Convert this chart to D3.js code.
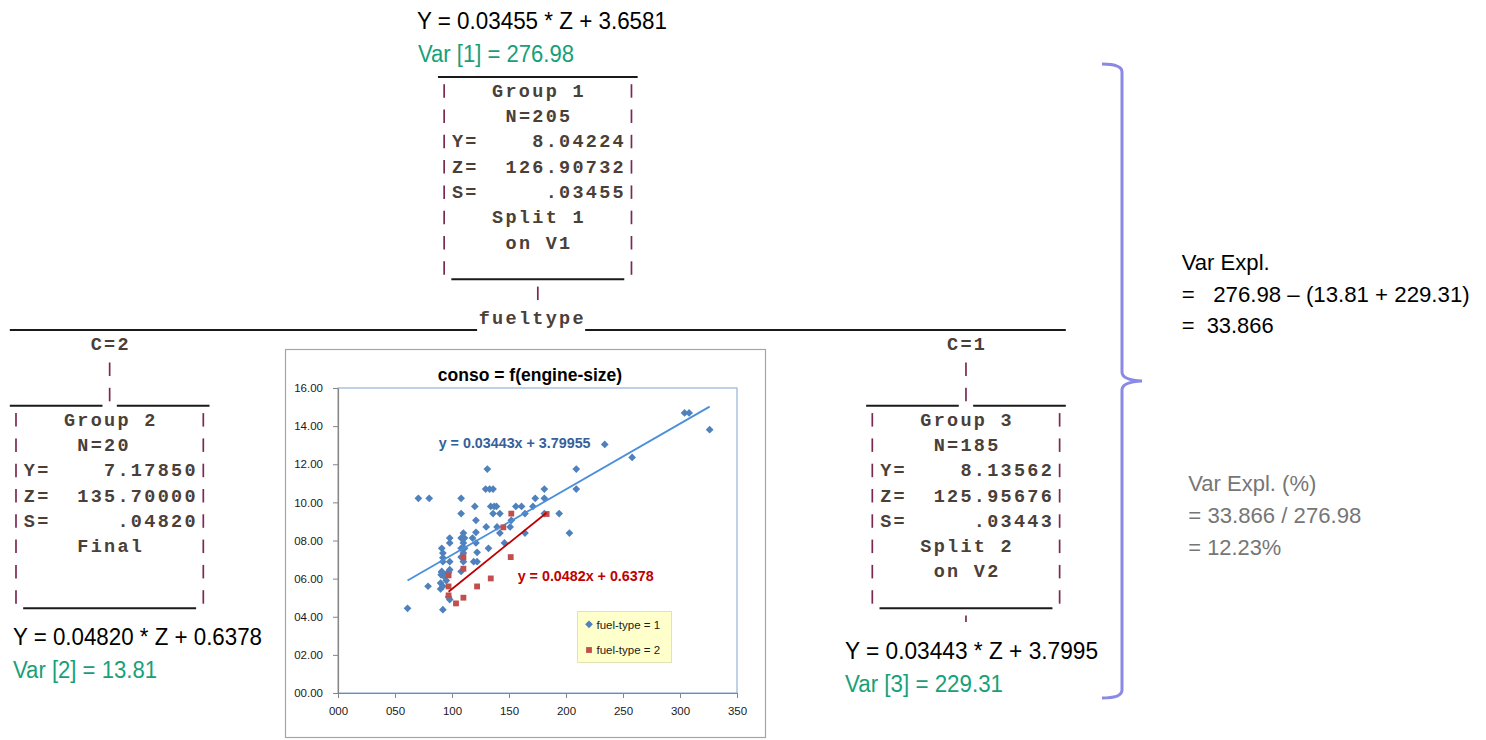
<!DOCTYPE html>
<meta charset="utf-8">
<style>
body { margin: 0; background: #fff; }
svg text { font-family: "Liberation Sans", Arial, sans-serif; }
.mono { font-family: "Liberation Mono", "Courier New", monospace; }
</style>
<svg width="1486" height="740"></svg>
<script src="https://d3js.org/d3.v7.min.js"></script>
<script>

// ascii tree printout: [row, column, text]
var treeRows = [
  [0, 32, "_______________"],
  [1, 32, "|   Group 1   |"],
  [2, 32, "|    N=205    |"],
  [3, 32, "|Y=    8.04224|"],
  [4, 32, "|Z=  126.90732|"],
  [5, 32, "|S=     .03455|"],
  [6, 32, "|   Split 1   |"],
  [7, 32, "|    on V1    |"],
  [8, 32, "|_____________|"],
  [9, 39, "|"],
  [10, 0, "___________________________________fueltype____________________________________"],
  [11, 6, "C=2"], [11, 70, "C=1"],
  [12, 7, "|"], [12, 71, "|"],
  [13, 0, "_______|_______"], [13, 64, "_______|_______"],
  [14, 0, "|   Group 2   |"], [14, 64, "|   Group 3   |"],
  [15, 0, "|    N=20     |"], [15, 64, "|    N=185    |"],
  [16, 0, "|Y=    7.17850|"], [16, 64, "|Y=    8.13562|"],
  [17, 0, "|Z=  135.70000|"], [17, 64, "|Z=  125.95676|"],
  [18, 0, "|S=     .04820|"], [18, 64, "|S=     .03443|"],
  [19, 0, "|    Final    |"], [19, 64, "|   Split 2   |"],
  [20, 0, "|             |"], [20, 64, "|    on V2    |"],
  [21, 0, "|_____________|"], [21, 64, "|_____________|"],
  [22, 71, "|"]
];

// node equations and variances (group 1, 2, 3)
var nodeEquations = ["Y = 0.03455 * Z + 3.6581", "Y = 0.04820 * Z + 0.6378", "Y = 0.03443 * Z + 3.7995"];
var nodeVariances = ["Var [1] = 276.98", "Var [2] = 13.81", "Var [3] = 229.31"];

var explText = ["Var Expl.", "=   276.98 \u2013 (13.81 + 229.31)", "=  33.866"];
var explPctText = ["Var Expl. (%)", "= 33.866 / 276.98", "= 12.23%"];

// scatter: [engine-size, conso]
var fuel1 = [
  [61,4.44],[70.5,10.21],[80,10.21],[79,5.60],[92,4.37],[90,5.46],[90,5.77],[92,5.60],
  [91,7.59],[92,7.34],[92,7.10],[92,6.89],[90.5,6.20],[91,6.38],[93,6.12],[95,5.90],
  [96,6.30],[91,6.33],[97,6.33],[98,8.13],[98,7.87],[98,6.89],[98,6.47],[97,5.04],[98,4.90],
  [108,10.21],[108,9.41],[110,8.39],[108,8.13],[111,8.13],[110,7.87],[108,7.59],[111,7.59],
  [110,7.34],[108,7.13],[110,6.89],[108,6.38],[120,9.79],[121,9.06],[121,8.43],[118,8.13],
  [121,7.87],[122,7.38],[119,6.89],[122,6.89],[131,11.75],[129.5,10.70],[133,10.70],[136,10.70],
  [134,9.79],[137,9.79],[139,9.79],[136,9.41],[142,9.41],[130,8.71],[139.5,8.71],[142,8.39],
  [132,7.59],[146,7.87],[151,8.71],[152,9.06],[156,9.79],[161,9.79],[164,9.41],[164,8.39],
  [171,9.79],[173,10.21],[181,10.70],[181,10.21],[181,9.41],[194,9.41],[203,8.39],[209,11.75],
  [209,10.70],[234,13.04],[258,12.36],[304,14.69],[308,14.69],[326,13.81]
];
var fuel2 = [
  [152,9.41],[145,8.69],[110,7.12],[110,6.52],[151.5,7.13],[97,6.17],[97,5.59],
  [134,6.01],[122,5.59],[97,5.12],[110,5.00],[103.5,4.70],[183,9.39]
];
var fit1 = {slope: 0.03443, intercept: 3.79955, label: "y = 0.03443x + 3.79955"};
var fit2 = {slope: 0.0482, intercept: 0.6378, label: "y = 0.0482x + 0.6378"};

var xTicks = [0, 50, 100, 150, 200, 250, 300, 350];
var yTicks = [0, 2, 4, 6, 8, 10, 12, 14, 16];
var legendNames = ["fuel-type = 1", "fuel-type = 2"];

var svg = d3.select("svg");

/** tree printout **/
var cw = 13.38, x0 = 9.3, rowH = 25.3, y0 = 65.4, fs = 18.5;
function colX(c) { return x0 + c * cw; }
function rowY(r) { return y0 + r * rowH; }

var bars = [], unders = [], words = [];
treeRows.forEach(function(t) {
  var r = t[0], c0 = t[1], s = t[2], i = 0, j;
  while (i < s.length) {
    var ch = s[i];
    if (ch == "|") { bars.push({r: r, c: c0 + i}); i++; }
    else if (ch == "_") {
      j = i; while (j < s.length && s[j] == "_") j++;
      unders.push({r: r, a: c0 + i, b: c0 + j - 1}); i = j;
    }
    else if (ch == " ") { i++; }
    else {
      j = i; while (j < s.length && s[j] != "|" && s[j] != "_") j++;
      words.push({r: r, c: c0 + i, t: s.slice(i, j).replace(/\s+$/, "")}); i = j;
    }
  }
});

var tree = svg.append("g").attr("class", "tree");
tree.selectAll("line.under").data(unders).enter().append("line")
  .attr("class", "under")
  .attr("x1", function(d) { return colX(d.a) + 0.5; })
  .attr("x2", function(d) { return colX(d.b + 1) - 0.5; })
  .attr("y1", function(d) { return rowY(d.r) + 11.5; })
  .attr("y2", function(d) { return rowY(d.r) + 11.5; })
  .attr("stroke", "#1a1a1a").attr("stroke-width", 2);

tree.selectAll("line.bar").data(bars).enter().append("line")
  .attr("class", "bar")
  .attr("x1", function(d) { return colX(d.c) + cw / 2; })
  .attr("x2", function(d) { return colX(d.c) + cw / 2; })
  .attr("y1", function(d) { return rowY(d.r) - 6.5; })
  .attr("y2", function(d) { return d.r == 22 ? rowY(d.r) : rowY(d.r) + 7; })
  .attr("stroke", "#7a2a52").attr("stroke-width", 1.7);

var ls = cw - 0.6 * fs;
tree.selectAll("text").data(words).enter().append("text")
  .attr("class", "mono")
  .attr("xml:space", "preserve")
  .style("white-space", "pre")
  .attr("x", function(d) { return colX(d.c) + ls / 2; })
  .attr("y", function(d) { return rowY(d.r) + 6; })
  .attr("font-size", fs)
  .attr("font-weight", "bold")
  .attr("letter-spacing", ls)
  .attr("fill", "#4a4038")
  .text(function(d) { return d.t; });

/** equations around the tree **/
var green = "#17a078";
function note(str, x, cy, w, color, size) {
  size = size || 23;
  svg.append("text")
    .attr("xml:space", "preserve")
    .style("white-space", "pre")
    .attr("x", x).attr("y", cy + 0.36 * size)
    .attr("font-size", size)
    .attr("fill", color)
    .attr("textLength", w).attr("lengthAdjust", "spacingAndGlyphs")
    .text(str);
}
note(nodeEquations[0], 417, 20.7, 250, "#000");
note(nodeVariances[0], 418, 53.3, 156, green);
note(nodeEquations[1], 13, 636.7, 249, "#000");
note(nodeVariances[1], 13, 670, 144, green);
note(nodeEquations[2], 845, 651, 253, "#000");
note(nodeVariances[2], 845, 684, 158, green);

note(explText[0], 1181.7, 262, 88, "#000", 22);
note(explText[1], 1181.7, 294, 288, "#000", 22);
note(explText[2], 1181.7, 325, 92, "#000", 22);
note(explPctText[0], 1188.3, 483, 128, "#767676", 22);
note(explPctText[1], 1188.3, 515, 173, "#767676", 22);
note(explPctText[2], 1188.3, 547, 93, "#767676", 22);

// curly brace
svg.append("path")
  .attr("d", "M1102,64 Q1122,64 1122,72 L1122,372 Q1122,380 1142,381 Q1122,382 1122,390 L1122,690 Q1122,698 1102,698")
  .attr("fill", "none").attr("stroke", "#8a8ae6").attr("stroke-width", 3);

/** scatter chart **/
svg.append("rect")
  .attr("x", 285.5).attr("y", 349.5).attr("width", 480).attr("height", 388)
  .attr("fill", "#fff").attr("stroke", "#a6a6a6").attr("stroke-width", 1.2);

var plot = {left: 338, right: 737, top: 388, bottom: 693};
var x = d3.scaleLinear().domain([0, 350]).range([plot.left, plot.right]);
var y = d3.scaleLinear().domain([0, 16]).range([plot.bottom, plot.top]);

svg.append("rect")
  .attr("x", plot.left).attr("y", plot.top)
  .attr("width", plot.right - plot.left).attr("height", plot.bottom - plot.top)
  .attr("fill", "none").attr("stroke", "#95b3d7").attr("stroke-width", 1.2);

var yAxis = svg.append("g")
  .attr("transform", "translate(" + plot.left + ",0)")
  .call(d3.axisLeft(y).tickValues(yTicks).tickFormat(d3.format("05.2f"))
    .tickSize(5).tickSizeOuter(0).tickPadding(10));
var xAxis = svg.append("g")
  .attr("transform", "translate(0," + plot.bottom + ")")
  .call(d3.axisBottom(x).tickValues(xTicks).tickFormat(d3.format("03d"))
    .tickSize(5).tickSizeOuter(0).tickPadding(9));
[xAxis, yAxis].forEach(function(a) {
  a.select(".domain").attr("stroke", "#868686").attr("stroke-width", 1.2);
  a.selectAll(".tick line").attr("stroke", "#868686");
  a.selectAll(".tick text").attr("font-size", 11.5).attr("fill", "#1a1a1a")
    .attr("font-family", "Liberation Sans, Arial, sans-serif");
});

svg.append("text")
  .attr("x", 530).attr("y", 381)
  .attr("text-anchor", "middle")
  .attr("font-size", 17.5).attr("font-weight", "bold")
  .text("conso = f(engine-size)");

// trend lines
function trend(data, fit, color) {
  var ext = d3.extent(data, function(d) { return d[0]; });
  svg.append("line")
    .attr("x1", x(ext[0])).attr("y1", y(fit.slope * ext[0] + fit.intercept))
    .attr("x2", x(ext[1])).attr("y2", y(fit.slope * ext[1] + fit.intercept))
    .attr("stroke", color).attr("stroke-width", 1.8);
}

var diamond = d3.symbol().type(d3.symbolSquare).size(30);
var square = d3.symbol().type(d3.symbolSquare).size(34);

svg.append("g").selectAll("path").data(fuel1).enter().append("path")
  .attr("d", diamond)
  .attr("transform", function(d) { return "translate(" + x(d[0]) + "," + y(d[1]) + ") rotate(45)"; })
  .attr("fill", "#4f81bd");
trend(fuel1, fit1, "#4a8fdc");

svg.append("g").selectAll("path").data(fuel2).enter().append("path")
  .attr("d", square)
  .attr("transform", function(d) { return "translate(" + x(d[0]) + "," + y(d[1]) + ")"; })
  .attr("fill", "#c0504d");
trend(fuel2, fit2, "#c00000");

svg.append("text")
  .attr("x", 438.7).attr("y", 448)
  .attr("font-size", 14.3).attr("font-weight", "bold").attr("fill", "#36609a")
  .text(fit1.label);
svg.append("text")
  .attr("x", 517.7).attr("y", 581)
  .attr("font-size", 14.3).attr("font-weight", "bold").attr("fill", "#c00000")
  .text(fit2.label);

// legend
var lg = svg.append("g").attr("transform", "translate(577.5,611.5)");
lg.append("rect").attr("width", 94).attr("height", 51)
  .attr("fill", "#ffffcc").attr("stroke", "#e2e2b4");
lg.append("path").attr("d", diamond)
  .attr("transform", "translate(11.5,12.8) rotate(45)").attr("fill", "#4f81bd");
lg.append("path").attr("d", square)
  .attr("transform", "translate(11.5,38.5)").attr("fill", "#c0504d");
lg.selectAll("text").data(legendNames).enter().append("text")
  .attr("x", 19).attr("y", function(d, i) { return 17 + i * 25.7; })
  .attr("font-size", 11.5).attr("fill", "#1a1a1a")
  .text(function(d) { return d; });

</script>
